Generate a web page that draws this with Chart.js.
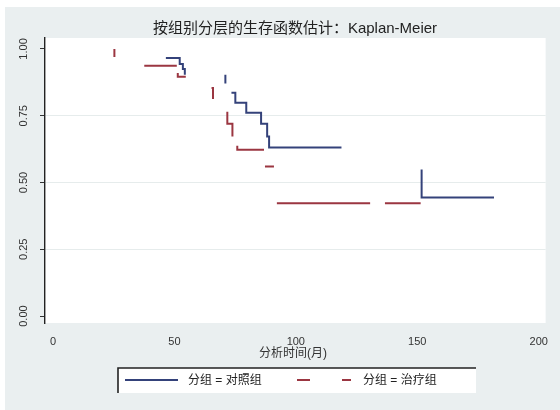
<!DOCTYPE html>
<html>
<head>
<meta charset="utf-8">
<script src="https://cdn.jsdelivr.net/npm/chart.js@4"></script>
<style>
  body { margin: 0; background: #fff; }
  canvas { display: block; }
</style>
</head>
<body>
<canvas id="kmChart" width="560" height="410"></canvas>
<script>
// chart text
const chartTitle = "按组别分层的生存函数估计：Kaplan-Meier";
const xTitle = "分析时间(月)";
const groupLabels = ["分组 = 对照组", "分组 = 治疗组"];
const xTicks = [0, 50, 100, 150, 200];
const yTicks = [0, 0.25, 0.5, 0.75, 1];

// group A (solid) - step vertices, null = gap in line
const timeA = [46.5, 52.2, 52.2, 53.5, 53.5, 54.3, 54.3, null,
               71.0, 71.0, null,
               73.5, 75.1, 75.1, 79.6, 79.6, 85.7, 85.7, 88.2, 88.2, 89.0, 89.0, 118.8, null,
               151.8, 151.8, 181.6];
const survA = [0.966, 0.966, 0.944, 0.944, 0.925, 0.925, 0.903, null,
               0.903, 0.871, null,
               0.836, 0.836, 0.799, 0.799, 0.761, 0.761, 0.720, 0.720, 0.672, 0.672, 0.631, 0.631, null,
               0.549, 0.444, 0.444];

// group B (dashed)
const timeB = [25.3, 25.3, null,
               37.6, 51.0, null,
               51.4, 51.4, 54.7, null,
               65.3, 65.9, 65.9, null,
               71.8, 71.8, 73.9, 73.9, null,
               75.9, 75.9, 86.9, null,
               87.3, 91.0, null,
               92.2, 130.6, null,
               136.7, 151.4];
const survB = [1.0, 0.970, null,
               0.937, 0.937, null,
               0.910, 0.896, 0.896, null,
               0.854, 0.854, 0.813, null,
               0.765, 0.720, 0.720, 0.672, null,
               0.638, 0.623, 0.623, null,
               0.560, 0.560, null,
               0.422, 0.422, null,
               0.422, 0.422];

const colorA = "#34427a";
const colorB = "#9b3641";
const fontFam = '"Liberation Sans", "Noto Sans CJK SC", sans-serif';

function toPoints(xs, ys) {
    let lastX = 0;
    return xs.map(function (x, i) {
        if (x === null) return { x: lastX, y: null };
        lastX = x;
        return { x: x, y: ys[i] };
    });
}

// background, title, y labels, x title and the legend box
const decorPlugin = {
    id: "decor",
    beforeDraw(chart) {
        const ctx = chart.ctx;
        const a = chart.chartArea;
        ctx.save();
        ctx.fillStyle = "#ffffff";
        ctx.fillRect(0, 0, chart.width, chart.height);
        ctx.fillStyle = "#eaeff0";
        ctx.fillRect(5, 7, chart.width - 5, chart.height - 7);
        ctx.fillStyle = "#ffffff";
        ctx.fillRect(a.left, a.top, a.right - a.left, a.bottom - a.top);
        ctx.restore();
    },
    afterDraw(chart) {
        const ctx = chart.ctx;
        const y = chart.scales.y;
        ctx.save();

        ctx.fillStyle = "#222";
        ctx.font = "15px " + fontFam;
        ctx.textAlign = "center";
        ctx.textBaseline = "middle";
        ctx.fillText(chartTitle, 295, 29);

        // rotated y tick labels
        ctx.font = "11px " + fontFam;
        ctx.fillStyle = "#333";
        y.ticks.forEach(function (t) {
            ctx.save();
            ctx.translate(24, y.getPixelForValue(t.value));
            ctx.rotate(-Math.PI / 2);
            ctx.fillText(t.value.toFixed(2), 0, 0);
            ctx.restore();
        });

        ctx.font = "12px " + fontFam;
        ctx.fillText(xTitle, 293, 354);

        // legend
        const bx = 118, by = 368, bw = 358, bh = 25;
        ctx.fillStyle = "#ffffff";
        ctx.fillRect(bx, by, bw, bh);
        ctx.strokeStyle = "#222";
        ctx.lineWidth = 1.6;
        ctx.beginPath();
        ctx.moveTo(bx, by + bh);
        ctx.lineTo(bx, by);
        ctx.lineTo(bx + bw, by);
        ctx.stroke();

        const ly = by + 12;
        ctx.lineWidth = 2;
        ctx.strokeStyle = colorA;
        ctx.beginPath();
        ctx.moveTo(125, ly);
        ctx.lineTo(178, ly);
        ctx.stroke();
        ctx.strokeStyle = colorB;
        ctx.setLineDash([13, 32]);
        ctx.beginPath();
        ctx.moveTo(297, ly);
        ctx.lineTo(351, ly);
        ctx.stroke();
        ctx.setLineDash([]);

        ctx.fillStyle = "#222";
        ctx.textAlign = "left";
        ctx.fillText(groupLabels[0], 188, ly + 1);
        ctx.fillText(groupLabels[1], 363, ly + 1);
        ctx.restore();
    }
};

new Chart(document.getElementById("kmChart"), {
    type: "line",
    data: {
        datasets: [
            {
                label: groupLabels[0],
                data: toPoints(timeA, survA),
                borderColor: colorA,
                borderWidth: 2,
                pointRadius: 0,
                tension: 0,
                spanGaps: false,
                borderJoinStyle: "miter"
            },
            {
                label: groupLabels[1],
                data: toPoints(timeB, survB),
                borderColor: colorB,
                borderWidth: 2,
                pointRadius: 0,
                tension: 0,
                spanGaps: false,
                borderJoinStyle: "miter"
            }
        ]
    },
    options: {
        responsive: false,
        animation: false,
        layout: { padding: { left: 0, right: 10, top: 38, bottom: 0 } },
        plugins: {
            legend: { display: false },
            title: { display: false },
            tooltip: { enabled: false }
        },
        scales: {
            x: {
                type: "linear",
                min: -3.27,
                max: 202.86,
                afterBuildTicks: function (s) { s.ticks = xTicks.map(v => ({ value: v })); },
                afterFit: function (s) { s.height = 87; },
                grid: { display: false, drawTicks: false },
                border: { display: false },
                ticks: {
                    padding: 12,
                    maxRotation: 0,
                    color: "#333",
                    font: { family: fontFam, size: 11 }
                }
            },
            y: {
                type: "linear",
                min: -0.026,
                max: 1.041,
                afterBuildTicks: function (s) { s.ticks = yTicks.map(v => ({ value: v })); },
                afterFit: function (s) { s.width = 45; },
                grid: {
                    color: function (c) {
                        return (c.tick && c.tick.value > 0 && c.tick.value < 1) ? "#e6ecec" : "rgba(0,0,0,0)";
                    },
                    tickColor: "#333",
                    tickLength: 5,
                    drawTicks: true
                },
                border: { display: true, color: "#222", width: 1.4 },
                ticks: { display: false }
            }
        }
    },
    plugins: [decorPlugin]
});
</script>
</body>
</html>
